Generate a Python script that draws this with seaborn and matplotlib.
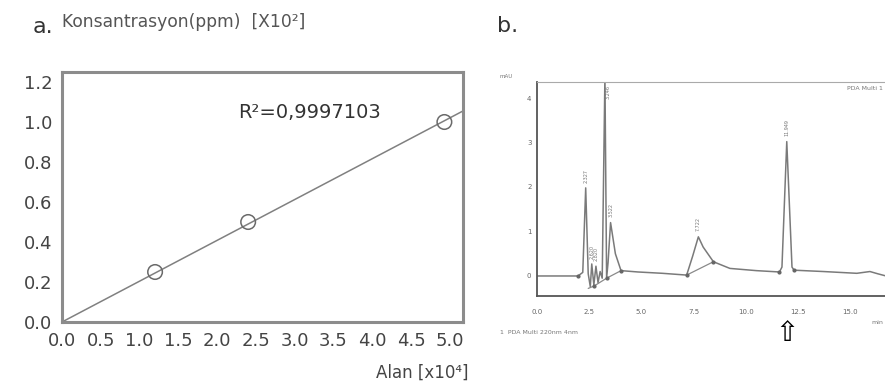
import numpy as np
import pandas as pd
import matplotlib
matplotlib.use('Agg')
import matplotlib.pyplot as plt
from matplotlib.ticker import MultipleLocator
import seaborn as sns

# panel a: calibration points
alan = [1.2, 2.4, 4.93]          # x10^4
konsantrasyon = [0.25, 0.5, 1.0]  # x10^2 ppm
r2_text = 'R²=0,9997103'
x_ticks_a = [0.0, 0.5, 1.0, 1.5, 2.0, 2.5, 3.0, 3.5, 4.0, 4.5, 5.0]
y_ticks_a = [0.0, 0.2, 0.4, 0.6, 0.8, 1.0, 1.2]

# panel b: chromatogram trace (min, mAU)
trace_t = [0.0, 1.96, 2.19, 2.33, 2.45, 2.55, 2.62, 2.72, 2.82, 2.92, 3.02, 3.12, 3.25, 3.33,
           3.40, 3.52, 3.75, 4.02, 4.83, 6.0, 7.16, 7.45, 7.72, 7.95, 8.44, 9.23, 10.5, 11.6,
           11.72, 11.95, 12.2, 12.3, 13.7, 15.3, 15.93, 16.3, 16.7]
trace_y = [0.0, 0.0, 0.08, 1.98, 0.05, -0.24, 0.27, -0.2, 0.22, -0.15, 0.1, -0.05, 4.5, -0.05,
           0.3, 1.2, 0.5, 0.12, 0.09, 0.06, 0.02, 0.45, 0.88, 0.65, 0.32, 0.17, 0.12, 0.09,
           0.2, 3.02, 0.2, 0.13, 0.1, 0.06, 0.1, 0.05, 0.0]
base_t = [2.45, 2.75, 3.33, 4.02, None, 7.16, 8.44]
base_y = [-0.28, -0.22, -0.05, 0.12, None, 0.02, 0.32]
mark_t = [1.96, 2.75, 3.33, 4.02, 7.16, 8.44, 11.6, 12.3]
mark_y = [0.0, -0.22, -0.05, 0.12, 0.02, 0.32, 0.09, 0.13]
peak_t = [2.327, 2.620, 2.820, 3.246, 3.522, 7.722, 11.949]
peak_h = [1.98, 0.27, 0.22, 4.5, 1.2, 0.88, 3.02]
x_ticks_b = [0.0, 2.5, 5.0, 7.5, 10.0, 12.5, 15.0]
y_ticks_b = [0, 1, 2, 3, 4]

sns.set_style('white')
plt.rcParams['font.family'] = ['DejaVu Sans']

W, H = 885, 387
fig = plt.figure(figsize=(W / 100, H / 100), dpi=100)


def px(x, y):
    return x / W, 1 - y / H


# ---- a. ----
ax1 = fig.add_axes([62 / W, 1 - 322 / H, (463 - 62) / W, (322 - 72) / H])
df_a = pd.DataFrame({'alan': alan, 'kons': konsantrasyon})
xa, ya = np.array(alan), np.array(konsantrasyon)
slope = (xa * ya).sum() / (xa * xa).sum()
xmax = 5.17
line = pd.DataFrame({'alan': [0.0, xmax], 'kons': [0.0, slope * xmax]})
sns.lineplot(data=line, x='alan', y='kons', ax=ax1, color='#808080', lw=1.1)
sns.scatterplot(data=df_a, x='alan', y='kons', ax=ax1, s=110, facecolor='none',
                edgecolor='#6a6a6a', linewidth=1.1, zorder=3)
ax1.set_xlim(0, xmax)
ax1.set_ylim(0, 1.25)
ax1.set_xticks(x_ticks_a)
ax1.set_yticks(y_ticks_a)
ax1.set_xticklabels([f'{v:.1f}' for v in x_ticks_a])
ax1.set_yticklabels([f'{v:.1f}' for v in y_ticks_a])
ax1.tick_params(labelsize=13, colors='#444444', length=2, direction='in', pad=7)
ax1.set_xlabel('')
ax1.set_ylabel('')
for s in ax1.spines.values():
    s.set_visible(True)
    s.set_color('#8c8c8c')
    s.set_linewidth(2.2)
ax1.text(0.439, 0.836, r2_text, transform=ax1.transAxes, fontsize=14, color='#333333',
         va='center', ha='left')

fig.text(*px(33, 33), 'a.', fontsize=16, color='#333333', ha='left', va='baseline')
fig.text(*px(62, 22), 'Konsantrasyon(ppm)  [X10²]', fontsize=12.3, color='#555555',
         ha='left', va='center')
fig.text(*px(468, 373), 'Alan [x10⁴]', fontsize=12, color='#444444', ha='right', va='center')

# ---- b. ----
ax2 = fig.add_axes([537 / W, 1 - 296 / H, (W - 537) / W, (296 - 82) / H])
df_b = pd.DataFrame({'t': trace_t, 'mau': trace_y})
sns.lineplot(data=df_b, x='t', y='mau', ax=ax2, sort=False, color='#7a7a7a', lw=1.1)
ax2.plot(base_t, base_y, color='#8a8a8a', lw=0.9)
ax2.plot(mark_t, mark_y, ls='none', marker='o', ms=2, color='#666666')
for t, h in zip(peak_t, peak_h):
    if h > 4.3:
        ax2.text(t + 0.05, 4.3, f'{t:.3f}', rotation=90, fontsize=3.5, color='#777777',
                 ha='left', va='top')
    else:
        ax2.text(t, h + 0.12, f'{t:.3f}', rotation=90, fontsize=3.5, color='#777777',
                 ha='center', va='bottom')
ax2.set_xlim(0, 16.65)
ax2.set_ylim(-0.45, 4.36)
ax2.set_xticks(x_ticks_b)
ax2.set_yticks(y_ticks_b)
ax2.set_xticklabels([f'{v:.1f}' for v in x_ticks_b])
ax2.xaxis.set_minor_locator(MultipleLocator(0.5))
ax2.yaxis.set_minor_locator(MultipleLocator(0.1))
ax2.tick_params(which='both', labelsize=5, colors='#666666', direction='out')
ax2.tick_params(axis='x', which='major', length=3, pad=6)
ax2.tick_params(axis='y', which='major', length=3, pad=1)
ax2.tick_params(which='minor', length=1.5)
ax2.set_xlabel('')
ax2.set_ylabel('')
ax2.spines['right'].set_visible(False)
for k in ['left', 'bottom']:
    ax2.spines[k].set_visible(True)
    ax2.spines[k].set_color('#555555')
    ax2.spines[k].set_linewidth(1.3)
ax2.spines['top'].set_visible(True)
ax2.spines['top'].set_color('#aaaaaa')
ax2.spines['top'].set_linewidth(0.8)

fig.text(*px(497, 32), 'b.', fontsize=16, color='#333333', ha='left', va='baseline')
fig.text(*px(500, 76), 'mAU', fontsize=4, color='#777777', ha='left', va='center')
fig.text(*px(883, 89), 'PDA Multi 1', fontsize=4.5, color='#777777', ha='right', va='center')
fig.text(*px(500, 333), '1  PDA Multi 220nm 4nm', fontsize=4.5, color='#777777',
         ha='left', va='center')
fig.text(*px(883, 322), 'min', fontsize=4.5, color='#777777', ha='right', va='center')
fig.text(*px(787, 333), '⇧', fontsize=20, color='black', ha='center', va='center')

fig.savefig('out.png', dpi=100)
